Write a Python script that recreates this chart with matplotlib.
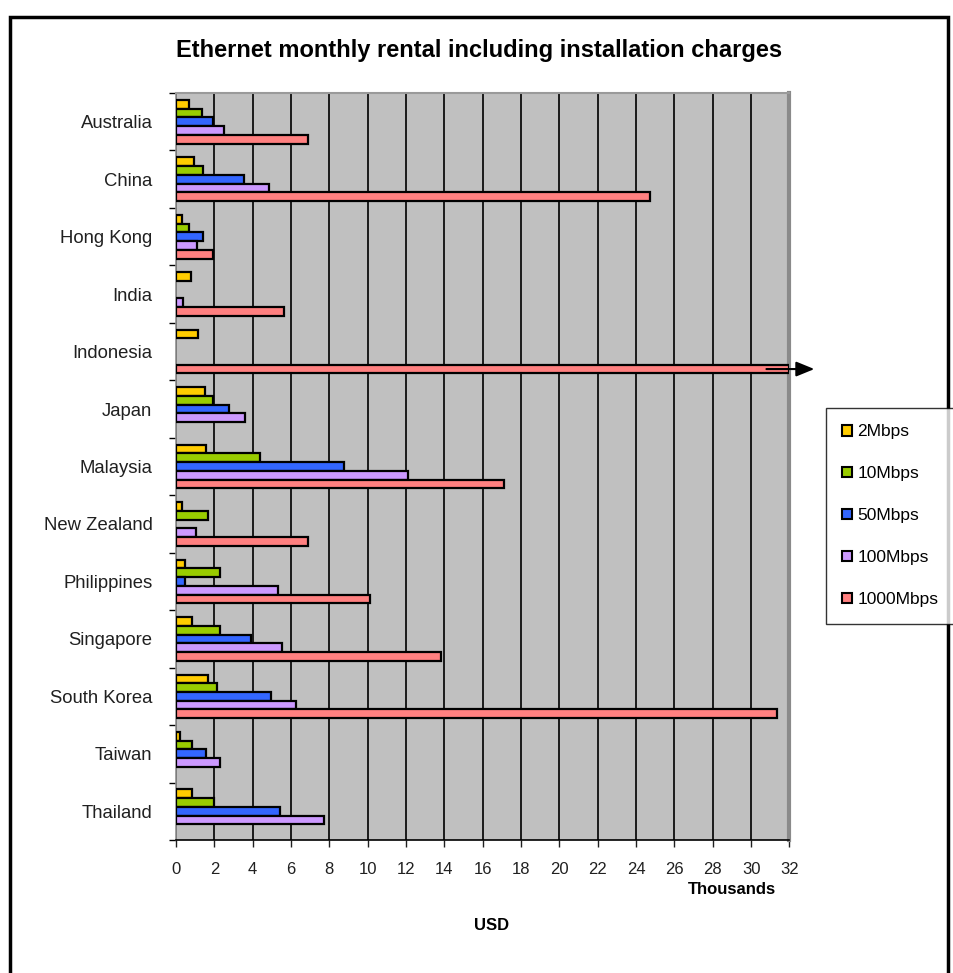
import matplotlib
matplotlib.use("Agg")
import matplotlib.pyplot as plt
import matplotlib.patches as mpatches
import numpy as np

COUNTRIES = [
    "Australia", "China", "Hong Kong", "India", "Indonesia", "Japan",
    "Malaysia", "New Zealand", "Philippines", "Singapore", "South Korea",
    "Taiwan", "Thailand"
]
SPEEDS = ["2Mbps", "10Mbps", "50Mbps", "100Mbps", "1000Mbps"]

# monthly rental incl. installation, thousands of USD (nan = not offered)
nan = np.nan
RENT_2M = [0.70, 0.96, 0.32, 0.79, 1.14, 1.50, 1.59, 0.32, 0.49, 0.84, 1.66, 0.23, 0.84]
RENT_10M = [1.33, 1.43, 0.67, nan, nan, 1.92, 4.37, 1.66, 2.28, 2.32, 2.14, 0.84, 1.97]
RENT_50M = [1.94, 3.53, 1.40, nan, nan, 2.79, 8.74, nan, 0.49, 3.93, 4.96, 1.54, 5.41]
RENT_100M = [2.49, 4.83, 1.07, 0.37, nan, 3.58, 12.11, 1.02, 5.30, 5.53, 6.26, 2.27, 7.72]
RENT_1000M = [6.86, 24.71, 1.94, 5.65, 40.0, nan, 17.11, 6.86, 10.13, 13.83, 31.36, nan, nan]

COLORS = ["#FFCC00", "#99CC00", "#3366FF", "#CC99FF", "#FF8080"]
X_MAX = 32


def main():
    all_data = [RENT_2M, RENT_10M, RENT_50M, RENT_100M, RENT_1000M]

    plt.rcParams["font.family"] = ["Liberation Sans", "DejaVu Sans"]
    fig = plt.figure(figsize=(9.54, 9.73), dpi=100)
    ax = fig.add_axes([0.1845, 0.1367, 0.8425 - 0.1845 - 0.015, 0.9044 - 0.1367])

    # outer frame around the whole chart (bottom edge runs off the page)
    fig.patches.append(mpatches.Rectangle(
        (10 / 954, -0.05), (948 - 10) / 954, 1 - 17 / 973 + 0.05,
        transform=fig.transFigure, fill=False, edgecolor="black",
        linewidth=2.5, zorder=0))

    ax.set_facecolor("#C0C0C0")

    y_pos = np.arange(len(COUNTRIES))
    bar_height = 0.152
    first_offset = -bar_height * (len(SPEEDS) - 1) / 2

    for i, series in enumerate(all_data):
        ax.barh(y_pos + first_offset + i * bar_height,
                np.minimum(np.array(series, dtype=float), X_MAX),
                bar_height,
                color=COLORS[i],
                edgecolor="black",
                linewidth=1.6,
                label=SPEEDS[i],
                zorder=3)

    # Indonesia 1000Mbps is off the scale
    idx = COUNTRIES.index("Indonesia")
    ax.annotate("", xy=(33.3, idx + first_offset + 4 * bar_height),
                xytext=(30.8, idx + first_offset + 4 * bar_height),
                arrowprops=dict(arrowstyle="-|>,head_length=1.1,head_width=0.45",
                                color="black", lw=1.5, shrinkA=0, shrinkB=0),
                annotation_clip=False, zorder=5)

    ax.set_xlim(0, X_MAX)
    ax.set_ylim(len(COUNTRIES) - 0.5, -0.5)
    ax.set_xticks(np.arange(0, X_MAX + 1, 2))
    ax.set_yticks(y_pos)
    ax.set_yticklabels(COUNTRIES)
    ax.set_yticks(np.arange(-0.5, len(COUNTRIES), 1), minor=True)

    ax.tick_params(axis="y", which="major", length=0, pad=17, labelsize=13.3,
                   colors="#202020")
    ax.tick_params(axis="y", which="minor", length=5, width=1, direction="out")
    ax.tick_params(axis="x", length=5, width=1, direction="out", pad=11,
                   labelsize=12, colors="#202020")

    ax.grid(True, axis="x", color="#1A1A1A", linewidth=1.4, zorder=1)
    ax.set_axisbelow(True)

    ax.spines["right"].set_color("#8A8A8A")
    ax.spines["right"].set_linewidth(3)
    ax.spines["top"].set_color("#9A9A9A")
    ax.spines["top"].set_linewidth(1.5)
    ax.spines["left"].set_color("#909090")
    ax.spines["left"].set_linewidth(1.2)
    ax.spines["bottom"].set_color("black")
    ax.spines["bottom"].set_linewidth(1.2)

    fig.text(479 / 954, 1 - 50 / 973,
             "Ethernet monthly rental including installation charges",
             ha="center", va="center", fontsize=17, fontweight="bold")
    fig.text(776 / 954, 1 - 889 / 973, "Thousands", ha="right", va="center",
             fontsize=12, fontweight="bold")
    fig.text(492 / 954, 1 - 925 / 973, "USD", ha="center", va="center",
             fontsize=12, fontweight="bold")

    handles = [mpatches.Patch(facecolor=c, edgecolor="black", linewidth=1.5)
               for c in COLORS]
    leg = fig.legend(handles, SPEEDS,
                     loc="upper left",
                     bbox_to_anchor=(826 / 954, 1 - 408 / 973),
                     frameon=True, fancybox=False, fontsize=12.5,
                     handlelength=0.55, handleheight=0.55, handletextpad=0.3,
                     labelspacing=1.55, borderpad=0.95, borderaxespad=0)
    leg.get_frame().set_edgecolor("black")
    leg.get_frame().set_linewidth(1)

    fig.savefig("out.png", dpi=100)


if __name__ == "__main__":
    main()
